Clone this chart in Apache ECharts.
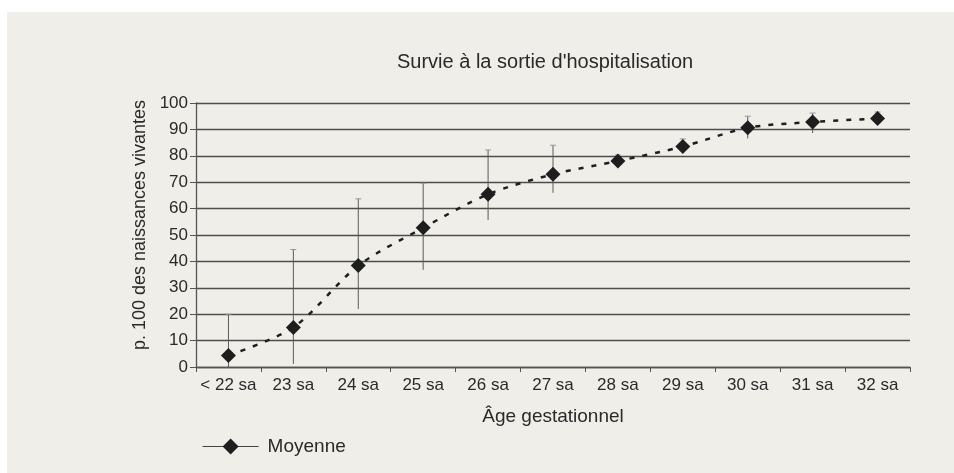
<!DOCTYPE html>
<html>
<head>
<meta charset="utf-8">
<script src="https://cdn.jsdelivr.net/npm/echarts@6/dist/echarts.min.js"></script>
<style>
  html, body { margin: 0; padding: 0; background: #ffffff; }
  #chart { width: 954px; height: 473px; }
</style>
</head>
<body>
<div id="chart"></div>
<script>
// Survie à la sortie d'hospitalisation - moyenne + barres d'erreur
const categories = ["< 22 sa", "23 sa", "24 sa", "25 sa", "26 sa", "27 sa", "28 sa", "29 sa", "30 sa", "31 sa", "32 sa"];
const moyenne = [4.4, 15, 38.4, 52.7, 65.4, 73, 78, 83.5, 90.6, 92.8, 94.1];
const basse   = [0, 1.2, 22, 36.8, 55.7, 66, 76.4, 81.6, 86.6, 88.6, 92];
const haute   = [20, 44.5, 63.7, 69.6, 82.2, 84, 80.3, 86.4, 95, 96.2, 96.6];

const txt = "#2a2a2a";
const font = "'Liberation Sans', Arial, sans-serif";

const chart = echarts.init(document.getElementById("chart"));
chart.setOption({
  backgroundColor: "#ffffff",
  animation: false,
  graphic: [{
    type: "rect", z: -10, silent: true,
    shape: { x: 7, y: 12, width: 947, height: 461 },
    style: { fill: "#efeee9" }
  }],
  title: {
    text: "Survie à la sortie d'hospitalisation",
    left: 392, top: 47,
    textStyle: { fontFamily: font, fontSize: 20, fontWeight: "normal", color: txt }
  },
  legend: {
    left: 197, top: 432,
    itemWidth: 56, itemHeight: 20,
    textStyle: { fontFamily: font, fontSize: 19, color: txt, padding: [0, 0, 0, 4] },
    data: [{
      name: "Moyenne",
      itemStyle: { color: "#1e1e1e" },
      lineStyle: { type: "solid", width: 1.2, color: "#444" }
    }]
  },
  grid: { left: 196, right: 44, top: 103, bottom: 106 },
  xAxis: {
    type: "category",
    data: categories,
    boundaryGap: true,
    name: "Âge gestationnel",
    nameLocation: "middle",
    nameGap: 40,
    nameTextStyle: { fontFamily: font, fontSize: 19, color: txt },
    axisLine: { lineStyle: { color: "#555", width: 1.3 } },
    axisTick: { show: true, length: 5, interval: 0, lineStyle: { color: "#555" } },
    axisLabel: { fontFamily: font, fontSize: 17, color: txt, margin: 10, interval: 0 }
  },
  yAxis: {
    type: "value",
    min: 0, max: 100, interval: 10,
    name: "p. 100 des naissances vivantes",
    nameLocation: "middle",
    nameGap: 41,
    nameTextStyle: { fontFamily: font, fontSize: 18, color: txt, padding: [0, 0, 0, 20] },
    axisLine: { show: true, lineStyle: { color: "#555", width: 1.3 } },
    axisTick: { show: true, length: 6, lineStyle: { color: "#555" } },
    axisLabel: { fontFamily: font, fontSize: 17, color: txt, margin: 8 },
    splitLine: { lineStyle: { color: "#4d4d4d", width: 1.4 } }
  },
  series: [
    {
      name: "Erreur",
      type: "custom",
      silent: true,
      z: 2,
      data: categories.map((c, i) => [i, basse[i], haute[i]]),
      renderItem: function (params, api) {
        const lo = api.coord([api.value(0), api.value(1)]);
        const hi = api.coord([api.value(0), api.value(2)]);
        const cap = 3;
        return {
          type: "group",
          children: [
            { type: "line", shape: { x1: hi[0], y1: hi[1], x2: lo[0], y2: lo[1] }, style: { stroke: "#5a5a5a", lineWidth: 1 } },
            { type: "line", shape: { x1: hi[0] - cap, y1: hi[1], x2: hi[0] + cap, y2: hi[1] }, style: { stroke: "#999", lineWidth: 1 } }
          ]
        };
      }
    },
    {
      name: "Moyenne",
      type: "line",
      z: 3,
      data: moyenne,
      smooth: 0.3,
      symbol: "diamond",
      symbolSize: 15,
      itemStyle: { color: "#1e1e1e" },
      lineStyle: { color: "#1e1e1e", width: 2.5, type: [5, 8] }
    }
  ]
});
</script>
</body>
</html>
